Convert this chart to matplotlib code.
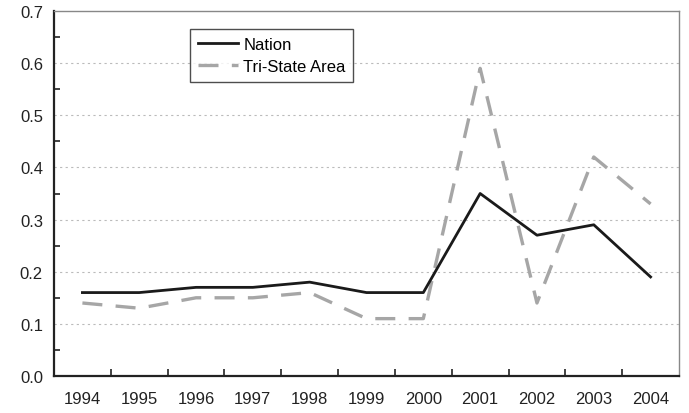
import matplotlib
matplotlib.use("Agg")
import matplotlib.pyplot as plt
import numpy as np

years = ["1994", "1995", "1996", "1997", "1998", "1999", "2000", "2001", "2002", "2003", "2004"]
nation = [0.16, 0.16, 0.17, 0.17, 0.18, 0.16, 0.16, 0.35, 0.27, 0.29, 0.19]
tristate = [0.14, 0.13, 0.15, 0.15, 0.16, 0.11, 0.11, 0.59, 0.14, 0.42, 0.33]

plt.rcParams['font.family'] = ['Liberation Sans', 'DejaVu Sans']

fig = plt.figure(figsize=(6.89, 4.14), dpi=100)
ax = fig.add_axes([54/689, 1-377/414, (679-54)/689, (377-12)/414])

x = np.arange(len(years))
ax.plot(x, nation, color='#1a1a1a', lw=2.0, label='Nation', zorder=3)
ax.plot(x, tristate, color='#a6a6a6', lw=2.4, dashes=(6, 4), label='Tri-State Area', zorder=2)

ax.set_xlim(-0.5, len(years) - 0.5)
ax.set_ylim(0, 0.7)
ax.set_yticks(np.arange(0, 0.71, 0.1))
ax.set_yticklabels([f"{v:.1f}" for v in np.arange(0, 0.71, 0.1)])
ax.set_yticks(np.arange(0.05, 0.7, 0.1), minor=True)
ax.set_xticks(x)
ax.set_xticklabels(years)
ax.set_xticks(np.arange(0.5, len(years) - 0.5, 1), minor=True)

for v in np.arange(0.1, 0.65, 0.1):
    ax.axhline(v, color='#bbbbbb', lw=0.8, ls=(0, (2, 3)), zorder=1)

ax.tick_params(axis='x', which='major', length=0, pad=11, labelsize=12, colors='#222222')
ax.tick_params(axis='x', which='minor', direction='in', length=5, width=1.2, color='#222222')
ax.tick_params(axis='y', which='major', direction='in', length=0, pad=8, labelsize=12, colors='#222222')
ax.tick_params(axis='y', which='minor', direction='in', length=4, width=1.2, color='#222222')

ax.spines['left'].set_color('#222222')
ax.spines['left'].set_linewidth(1.6)
ax.spines['bottom'].set_color('#222222')
ax.spines['bottom'].set_linewidth(1.6)
ax.spines['top'].set_color('#888888')
ax.spines['top'].set_linewidth(1.0)
ax.spines['right'].set_color('#888888')
ax.spines['right'].set_linewidth(1.0)

leg = ax.legend(loc='upper left', bbox_to_anchor=((190-54)/625, 1-(30-12)/365), frameon=True,
                fancybox=False, fontsize=12, handlelength=2.4, borderpad=0.45, labelspacing=0.45,
                handletextpad=0.35, borderaxespad=0)
leg.get_frame().set_edgecolor('#222222')
leg.get_frame().set_linewidth(1.0)

fig.savefig("out.png", dpi=100)
